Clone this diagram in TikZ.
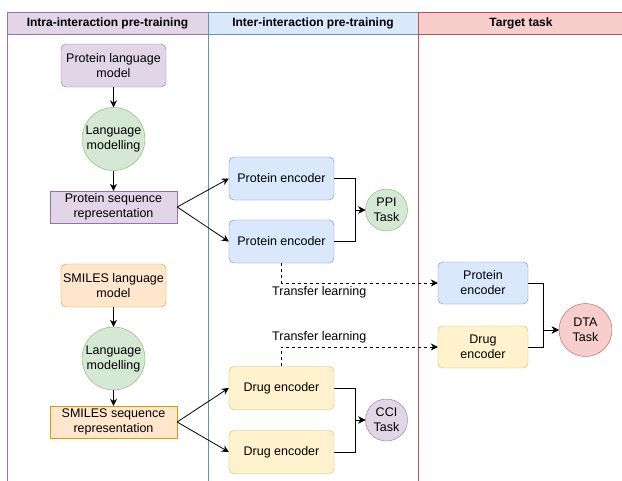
\documentclass[tikz,border=0pt]{standalone}
\usepackage{fontspec}
\setmainfont{Liberation Sans}
\usetikzlibrary{arrows.meta}

\definecolor{purplefill}{HTML}{E1D5E7}
\definecolor{purpleline}{HTML}{9673A6}
\definecolor{bluefill}{HTML}{DAE8FC}
\definecolor{blueline}{HTML}{6C8EBF}
\definecolor{redfill}{HTML}{F8CECC}
\definecolor{redline}{HTML}{B85450}
\definecolor{greenfill}{HTML}{D5E8D4}
\definecolor{greenline}{HTML}{82B366}
\definecolor{orangefill}{HTML}{FFE6CC}
\definecolor{orangeline}{HTML}{D79B00}
\definecolor{yellowfill}{HTML}{FFF2CC}
\definecolor{yellowline}{HTML}{D6B656}

\tikzset{
    head/.style = {draw, minimum height = 22pt, inner sep = 0pt, font = \fontsize{12}{15}\selectfont\bfseries},
    box/.style = {draw, align = center, inner sep = 2pt, minimum width = 105pt, minimum height = 43pt},
    rbox/.style = {box, rounded corners = 5pt},
    circ/.style = {circle, draw, align = center, inner sep = 0pt, minimum size = 63pt},
    purplebox/.style = {fill = purplefill, draw = purpleline},
    bluebox/.style = {fill = bluefill, draw = blueline},
    redbox/.style = {fill = redfill, draw = redline},
    greenbox/.style = {fill = greenfill, draw = greenline},
    orangebox/.style = {fill = orangefill, draw = orangeline},
    yellowbox/.style = {fill = yellowfill, draw = yellowline},
    flow/.style = {-{Stealth[length = 7pt, width = 7pt]}, line width = 0.8pt},
    transfer/.style = {flow, dash pattern = on 3pt off 3pt}
}

\begin{document}
\begin{tikzpicture}[x = 1pt, y = -1pt, font = \fontsize{12.5}{15}\selectfont]
    \useasboundingbox (0, 0) rectangle (622, 480);

    % lanes
    \draw [purpleline, line width = 0.8pt] (7, 34) -- (7, 481);
    \draw [blueline, line width = 0.8pt] (208, 34) -- (208, 481);
    \draw [redline, line width = 0.8pt] (418, 34) -- (418, 481);
    \node [head, purplebox, minimum width = 201pt] (h1) at (107.5, 23) {Intra-interaction pre-training};
    \node [head, bluebox, minimum width = 210pt] (h2) at (313, 23) {Inter-interaction pre-training};
    \node [head, redbox, minimum width = 206pt] (h3) at (521, 23) {Target task};

    \node [rbox, purplebox] (plm) at (113.5, 65.5) {Protein language\\model};
    \node [circ, greenbox] (lm1) at (113.5, 139) {Language\\modelling};
    \node [box, purplebox, minimum width = 127pt, minimum height = 32pt] (psr) at (113.5, 207) {Protein sequence\\representation};

    \node [rbox, orangebox] (slm) at (113.5, 285.5) {SMILES language\\model};
    \node [circ, greenbox] (lm2) at (113.5, 358.5) {Language\\modelling};
    \node [box, orangebox, minimum width = 127pt, minimum height = 32pt] (ssr) at (113.5, 422) {SMILES sequence\\representation};

    \node [rbox, bluebox] (pe1) at (281.5, 178.5) {Protein encoder};
    \node [rbox, bluebox] (pe2) at (281.5, 241.5) {Protein encoder};
    \node [circ, greenbox, minimum size = 42pt] (ppi) at (386.5, 210) {PPI\\Task};

    \node [rbox, yellowbox] (de1) at (281.5, 388) {Drug encoder};
    \node [rbox, yellowbox] (de2) at (281.5, 452) {Drug encoder};
    \node [circ, purplebox, minimum size = 42pt] (cci) at (386.5, 420) {CCI\\Task};

    \node [rbox, bluebox, minimum width = 90pt, minimum height = 42pt] (tpe) at (483, 283) {Protein\\encoder};
    \node [rbox, yellowbox, minimum width = 90pt, minimum height = 42pt] (tde) at (483, 347) {Drug\\encoder};
    \node [circ, redbox, minimum size = 53pt] (dta) at (585.5, 330) {DTA\\Task};

    \draw [flow] (plm) -- (lm1);
    \draw [flow] (lm1) -- (psr);
    \draw [flow] (slm) -- (lm2);
    \draw [flow] (lm2) -- (ssr);
    \draw [flow] (psr.east) -- (pe1.west);
    \draw [flow] (psr.east) -- (pe2.west);
    \draw [flow] (ssr.east) -- (de1.west);
    \draw [flow] (ssr.east) -- (de2.west);
    \draw [flow] (pe1.east) -- ++(21, 0) |- (ppi.west);
    \draw [flow] (pe2.east) -- ++(21, 0) |- (ppi.west);
    \draw [flow] (de1.east) -- ++(21, 0) |- (cci.west);
    \draw [flow] (de2.east) -- ++(21, 0) |- (cci.west);
    \draw [flow] (tpe.east) -- ++(15, 0) |- (dta.west);
    \draw [flow] (tde.east) -- ++(15, 0) |- (dta.west);

    \draw [transfer] (pe2.south) |- (tpe.west)
        node (tl1) [pos = 0.5, below right, xshift = -13pt] {Transfer learning};
    \draw [transfer] (de1.north) |- (tde.west)
        node (tl2) [pos = 0.5, above right, xshift = -13pt] {Transfer learning};
\end{tikzpicture}
\end{document}
